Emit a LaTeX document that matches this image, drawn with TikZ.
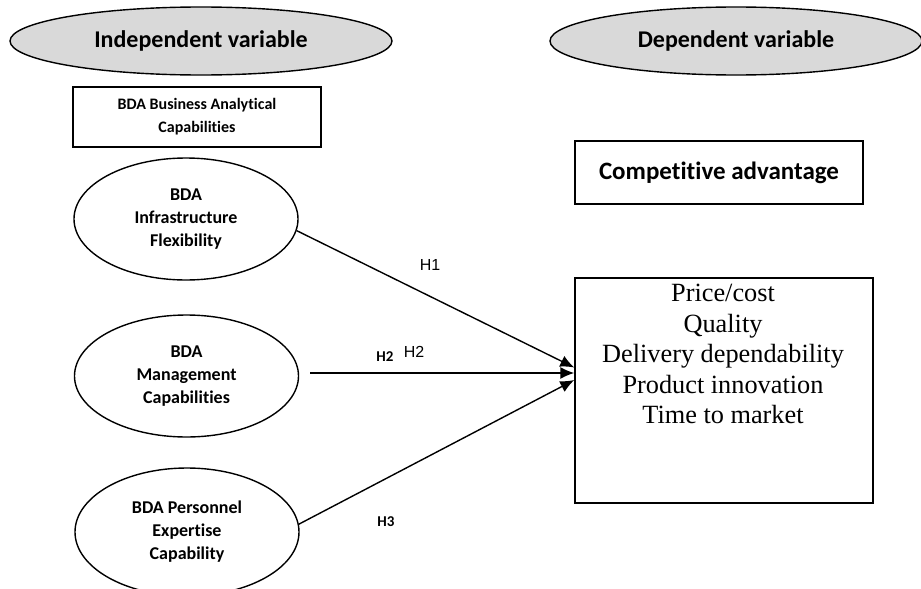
\documentclass[tikz,border=0pt]{standalone}
\usepackage{fontspec}
\setmainfont{Liberation Serif}
\newfontfamily\calfont[Ligatures=NoCommon]{Carlito}
\newfontfamily\arifont{Liberation Sans}
\usetikzlibrary{shapes.geometric,arrows.meta}
\definecolor{ellgray}{RGB}{217,217,217}
\tikzset{
  headell/.style={ellipse,draw=black,fill=ellgray,line width=1.4pt,inner sep=0pt,
    font=\calfont\bfseries\fontsize{24}{28}\selectfont},
  varell/.style={ellipse,draw=black,line width=1.4pt,inner sep=0pt,align=center,
    minimum width=224pt,font=\calfont\bfseries\fontsize{18}{23}\selectfont},
  boxnode/.style={rectangle,draw=black,line width=1.4pt,inner sep=0pt,align=center},
  conn/.style={line width=1.4pt,-{Latex[length=14pt,width=12pt]}},
  hlab/.style={font=\arifont\fontsize{16}{18}\selectfont},
  hblab/.style={font=\calfont\bfseries\fontsize{15}{18}\selectfont}
}
\begin{document}
\begin{tikzpicture}[x=1pt,y=-1pt]
\useasboundingbox (0,0) rectangle (921,589);
\node[headell,minimum width=382pt,minimum height=68pt] (indep) at (201,41) {Independent variable};
\node[headell,minimum width=372pt,minimum height=68pt] (dep) at (736,41) {Dependent variable};
\node[boxnode,minimum width=248pt,minimum height=60pt,font=\calfont\bfseries\fontsize{16}{23}\selectfont] (bda) at (197,117) {BDA Business Analytical\\Capabilities};
\node[boxnode,minimum width=288pt,minimum height=63pt,font=\calfont\bfseries\fontsize{25}{28}\selectfont] (comp) at (719,172.5) {Competitive advantage};
\node[boxnode,minimum width=298pt,minimum height=225pt] (big) at (724,390.5) {};
\node[align=center,inner sep=0pt,font=\fontsize{26.3}{30.5}\selectfont] (items) at (723,354) {Price/cost\\Quality\\Delivery dependability\\Product innovation\\Time to market};
\node[varell,minimum height=122pt] (e1) at (186,219) {BDA\\Infrastructure\\Flexibility};
\node[varell,minimum height=122pt] (e2) at (186.5,376) {BDA\\Management\\Capabilities};
\node[varell,minimum height=128pt] (e3) at (187,532) {BDA Personnel\\Expertise\\Capability};
\coordinate (s2) at (310,373);
\coordinate (t1) at ([yshift=23pt]big.west);
\coordinate (t2) at ([yshift=17.5pt]big.west);
\coordinate (t3) at ([yshift=10.5pt]big.west);
\draw[conn] (e1.-6) -- (t1);
\draw[conn] (s2) -- (t2);
\draw[conn] (e3.4) -- (t3);
\node[hlab] (h1) at (430,265) {H1};
\node[hblab] (h2b) at (385,357) {H2};
\node[hlab] (h2) at (414,352) {H2};
\node[hblab] (h3) at (386,522) {H3};
\end{tikzpicture}
\end{document}
